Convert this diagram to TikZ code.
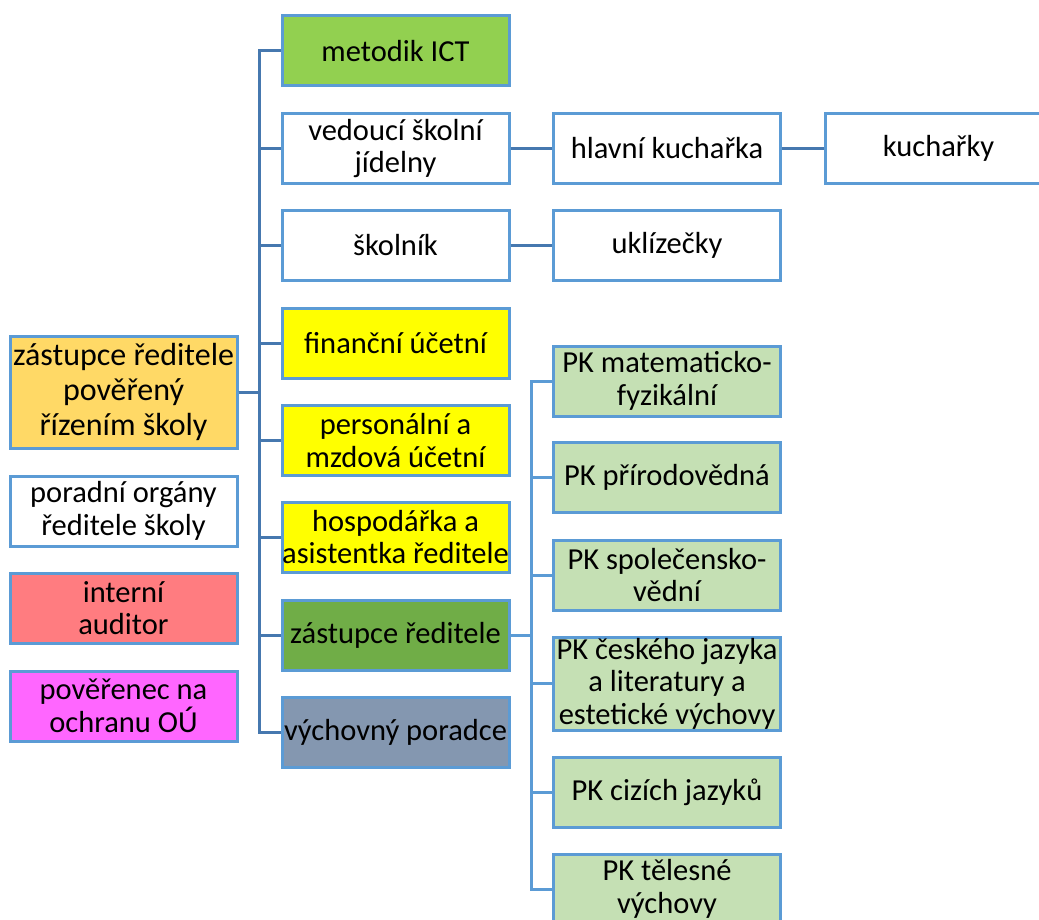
\documentclass[tikz,border=0pt]{standalone}
\usepackage{fontspec}
\setmainfont{Carlito}
\usetikzlibrary{positioning}
\definecolor{borderColor}{RGB}{91,155,213}
\definecolor{mainLineColor}{RGB}{70,120,175}
\definecolor{subLineColor}{RGB}{91,155,213}
\definecolor{directorFill}{RGB}{255,217,102}
\definecolor{ictFill}{RGB}{146,208,80}
\definecolor{officeFill}{RGB}{255,255,0}
\definecolor{deputyFill}{RGB}{112,173,71}
\definecolor{counselorFill}{RGB}{132,151,176}
\definecolor{auditorFill}{RGB}{255,124,128}
\definecolor{dpoFill}{RGB}{255,102,255}
\definecolor{pkFill}{RGB}{197,224,180}
\tikzstyle{orgChart} = [x = 1pt, y = -1pt]
\tikzstyle{orgBox} = [draw=borderColor, fill=white, line width=3pt, minimum width=227pt, minimum height=70pt, inner sep=0pt, align=center, font=\fontsize{30.5}{32.5}\selectfont]
\tikzstyle{directorBox} = [orgBox, fill=directorFill, minimum height=112pt, font=\fontsize{32}{35}\selectfont]
\tikzstyle{pkBox} = [orgBox, fill=pkFill]
\tikzstyle{orgLine} = [draw=mainLineColor, line width=3pt]
\tikzstyle{pkLine} = [draw=subLineColor, line width=3pt]
\newcommand{\leftColumn}{123.5}
\newcommand{\midColumn}{395.5}
\newcommand{\rightColumn}{667}

\begin{document}
\begin{tikzpicture}[orgChart]
  \useasboundingbox (0,0) rectangle (1039,920);

  % left column
  \node [directorBox] (director) at (\leftColumn,392) {zástupce ředitele\\pověřený\\řízením školy};
  \node [orgBox] (advisory) at (\leftColumn,511) {poradní orgány\\ředitele školy};
  \node [orgBox, fill=auditorFill] (auditor) at (\leftColumn,608) {interní\\auditor};
  \node [orgBox, fill=dpoFill] (dpo) at (\leftColumn,706) {pověřenec na\\ochranu OÚ};

  % middle column
  \node [orgBox, fill=ictFill] (ict) at (\midColumn,51) {metodik ICT};
  \node [orgBox] (canteen) at (\midColumn,148.5) {vedoucí školní\\jídelny};
  \node [orgBox] (janitor) at (\midColumn,245.5) {školník};
  \node [orgBox, fill=officeFill] (accountant) at (\midColumn,343) {finanční účetní};
  \node [orgBox, fill=officeFill] (payroll) at (\midColumn,440.5) {personální a\\mzdová účetní};
  \node [orgBox, fill=officeFill] (assistant) at (\midColumn,537) {hospodářka a\\asistentka ředitele};
  \node [orgBox, fill=deputyFill] (deputy) at (\midColumn,635) {zástupce ředitele};
  \node [orgBox, fill=counselorFill] (counselor) at (\midColumn,732) {výchovný poradce};

  % kitchen and cleaning
  \node [orgBox] (headCook) at (\rightColumn,148.5) {hlavní kuchařka};
  \node [orgBox] (cooks) at (938.5,148.5) {kuchařky};
  \node [orgBox] (cleaners) at (\rightColumn,245.5) {uklízečky};

  % subject committees
  \node [pkBox] (pkMath) at (\rightColumn,381) {PK matematicko-\\fyzikální};
  \node [pkBox] (pkScience) at (\rightColumn,477.5) {PK přírodovědná};
  \node [pkBox] (pkSocial) at (\rightColumn,575) {PK společensko-\\vědní};
  \node [pkBox, minimum height=93pt] (pkCzech) at (\rightColumn,683.5) {PK českého jazyka\\a literatury a\\estetické výchovy};
  \node [pkBox] (pkLanguages) at (\rightColumn,792.5) {PK cizích jazyků};
  \node [pkBox] (pkSport) at (\rightColumn,889) {PK tělesné\\výchovy};

  % connectors
  \foreach \child in {ict, canteen, janitor, accountant, payroll, assistant, deputy, counselor} {
    \draw [orgLine] (director.east) -- ++(21,0) |- (\child.west);
  }
  \foreach \child in {pkMath, pkScience, pkSocial, pkCzech, pkLanguages, pkSport} {
    \draw [pkLine] (deputy.east) -- ++(21,0) |- (\child.west);
  }
  \draw [orgLine] (canteen.east) -- (headCook.west);
  \draw [orgLine] (headCook.east) -- (cooks.west);
  \draw [orgLine] (janitor.east) -- (cleaners.west);
\end{tikzpicture}
\end{document}
